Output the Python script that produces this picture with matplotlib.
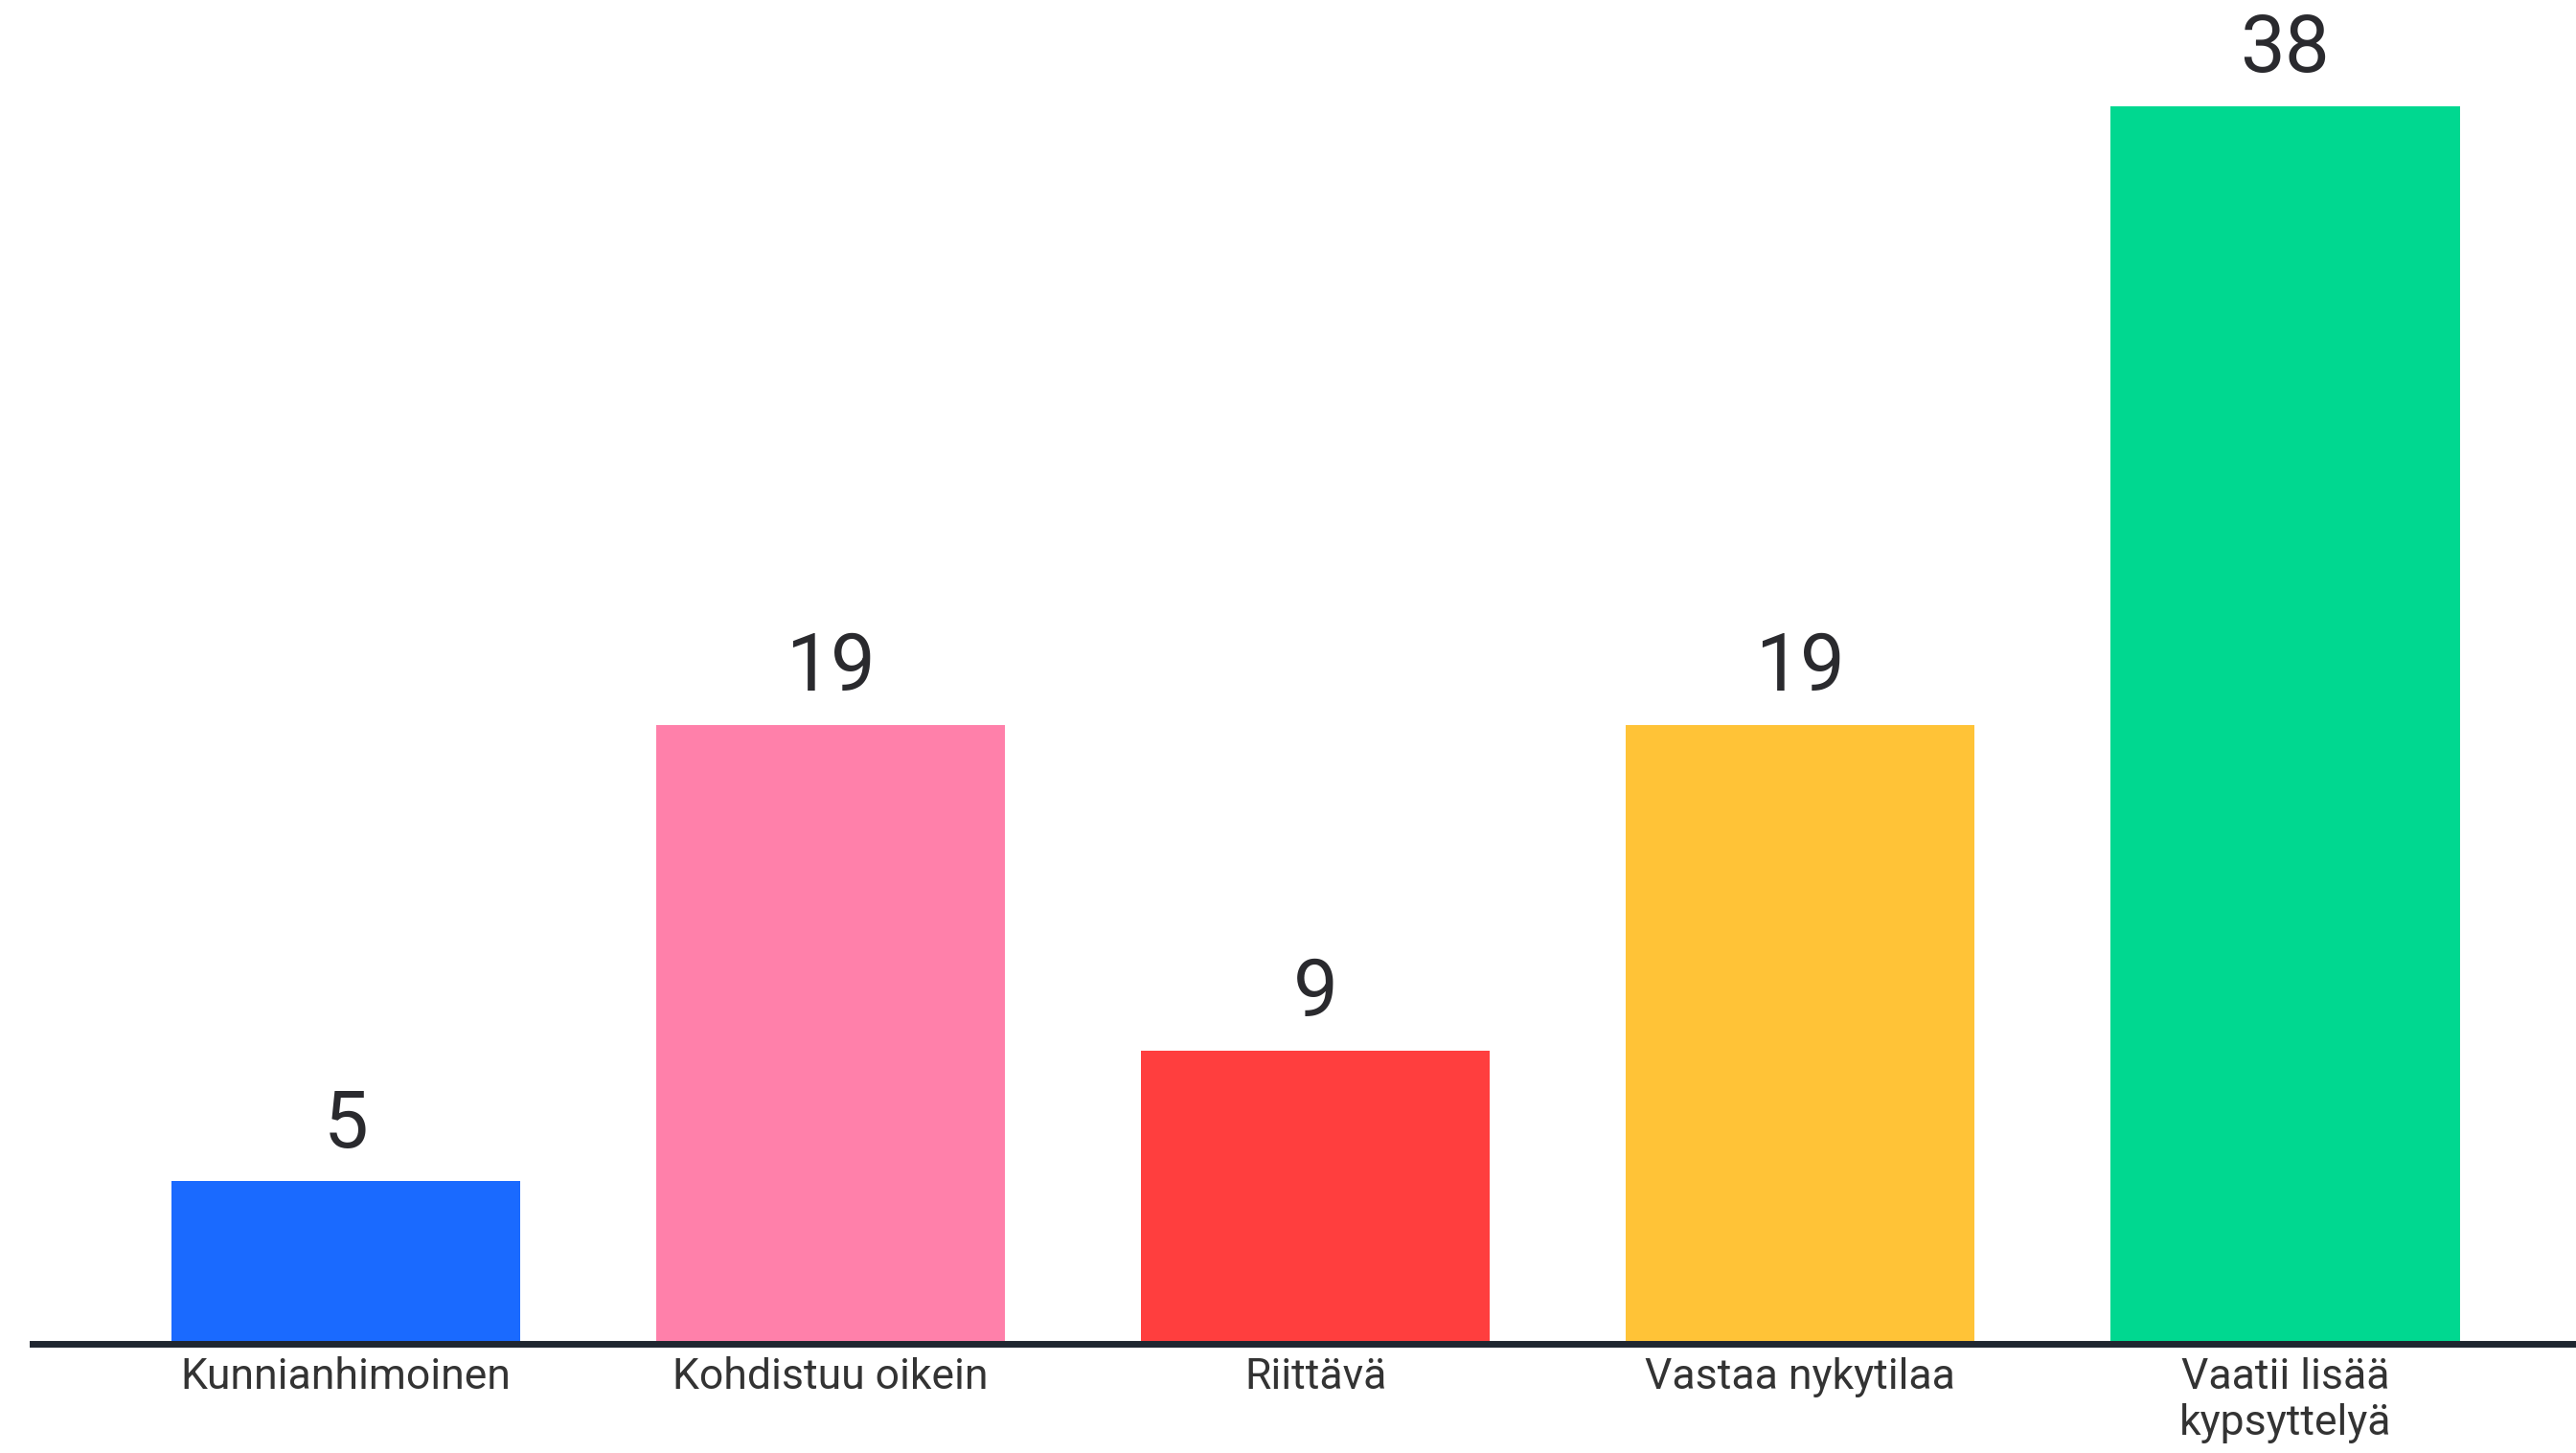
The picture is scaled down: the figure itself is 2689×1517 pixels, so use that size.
#pylväskaavio: arvioiden jakauma

#kirjastot
import matplotlib
matplotlib.use("Agg")
import matplotlib.pyplot as plt

#data
kategoriat = ["Kunnianhimoinen", "Kohdistuu oikein", "Riittävä",
              "Vastaa nykytilaa", "Vaatii lisää\nkypsyttelyä"]
arvot = [5, 19, 9, 19, 38]
varit = ["#1A6AFF", "#FF80AA", "#FF3E3E", "#FFC337", "#00D890"]

fig = plt.figure(figsize=(26.89, 15.17), dpi=100)
ax = fig.add_axes([34 / 2689, 0.0752, 1 - 34 / 2689, 0.9248])

x = range(len(kategoriat))
palkit = ax.bar(x, arvot, width=0.72, color=varit, zorder=1)

#arvot palkkien päälle
for p, v in zip(palkit, arvot):
    ax.annotate(str(v), (p.get_x() + p.get_width() / 2, v),
                xytext=(0, 42), textcoords="offset points",
                ha="center", va="center", fontsize=60,
                family=["Roboto", "DejaVu Sans"], color="#2A2A2E",
                annotation_clip=False)

ax.set_xlim(-0.646, 4.60)
ax.set_ylim(0, 41.25)

ax.set_xticks(list(x))
ax.set_xticklabels(kategoriat, fontsize=32, color="#333333",
                   family=["Roboto", "DejaVu Sans"],
                   linespacing=1.2)
ax.tick_params(axis="x", length=0, pad=10)
ax.set_yticks([])

for s in ["top", "right", "left"]:
    ax.spines[s].set_visible(False)
ax.spines["bottom"].set_color("#1F2630")
ax.spines["bottom"].set_linewidth(5)
ax.spines["bottom"].set_zorder(3)

fig.savefig("out.png", dpi=100, facecolor="white")
